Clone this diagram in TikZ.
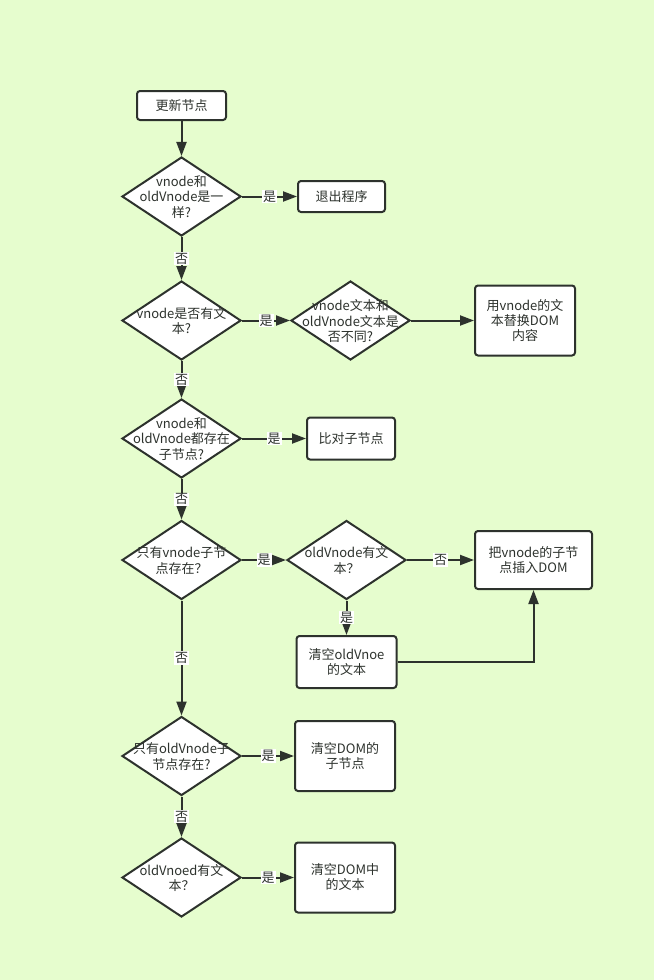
\documentclass[tikz,border=0pt]{standalone}
\usepackage{fontspec}
\setmainfont{Noto Sans CJK SC}
\usetikzlibrary{shapes.geometric, arrows.meta, positioning}
\definecolor{bgcol}{RGB}{230,253,206}
\definecolor{linecol}{RGB}{45,50,45}
\newcommand{\ctext}[1]{\smash{\makebox[0pt]{\raisebox{-0.4em}{\begin{tabular}{@{}c@{}}#1\end{tabular}}}}}

\begin{document}
\begin{tikzpicture}[node distance=91pt, line width=2pt, color=linecol,
  font=\fontsize{13}{15}\selectfont,
  box/.style = {draw, rounded corners=3pt, fill=white, align=center, inner sep=2pt},
  cond/.style = {draw, diamond, fill=white, minimum width=119pt, minimum height=79pt, inner sep=0pt},
  arr/.style = {-{Triangle[length=14pt, width=10pt]}},
  lbl/.style = {fill=white, inner sep=1pt}]
				\fill[bgcol] (0pt,0pt) rectangle (654pt,-980pt);
				\useasboundingbox (0pt,0pt) rectangle (654pt,-980pt);
				\node[box, minimum width=89pt, minimum height=29pt] (start) at (181.5pt,-105.5pt) {更新节点};
				\node[cond] (same) [below of=start, node distance=91pt] {\ctext{vnode和\\oldVnode是一\\样?}};
				\node[box, minimum width=87pt, minimum height=31pt] (quit) [right of=same, node distance=160pt] {退出程序};
				\node[cond] (hastext) [below of=same, node distance=124pt] {\ctext{vnode是否有文\\本?}};
				\node[cond] (diff) [right of=hastext, node distance=169pt] {\ctext{vnode文本和\\oldVnode文本是\\否不同?}};
				\node[box, minimum width=100pt, minimum height=70pt] (settext) [right of=diff, node distance=174.5pt] {用vnode的文\\本替换DOM\\内容};
				\node[cond] (both) [below of=hastext, node distance=118pt] {\ctext{vnode和\\oldVnode都存在\\子节点?}};
				\node[box, minimum width=88pt, minimum height=42pt] (cmp) [right of=both, node distance=169.5pt] {比对子节点};
				\node[cond] (onlynew) [below of=both, node distance=121.5pt] {\ctext{只有vnode子节\\点存在？}};
				\node[cond] (oldtext) [right of=onlynew, node distance=165pt] {\ctext{oldVnode有文\\本？}};
				\node[box, minimum width=117pt, minimum height=58pt] (add) [right of=oldtext, node distance=187pt] {把vnode的子节\\点插入DOM};
				\node[box, minimum width=100pt, minimum height=52pt] (clrold) [below of=oldtext, node distance=102pt] {清空oldVnoe\\的文本};
				\node[cond] (onlyold) [below of=onlynew, node distance=196pt] {\ctext{只有oldVnode子\\节点存在?}};
				\node[box, minimum width=100pt, minimum height=70pt] (rmchild) [right of=onlyold, node distance=163.5pt] {清空DOM的\\子节点};
				\node[cond] (oldhas) [below of=onlyold, node distance=121.5pt] {\ctext{oldVnoed有文\\本？}};
				\node[box, minimum width=100pt, minimum height=70pt] (rmtext) [right of=oldhas, node distance=163.5pt] {清空DOM中\\的文本};
				\draw[arr] (start) -- (same);
				\draw[arr] (same) -- node[lbl] {是} (quit);
				\draw[arr] (same) -- node[lbl] {否} (hastext);
				\draw[arr] (hastext) -- node[lbl] {是} (diff);
				\draw[arr] (diff) -- (settext);
				\draw[arr] (hastext) -- node[lbl] {否} (both);
				\draw[arr] (both) -- node[lbl] {是} (cmp);
				\draw[arr] (both) -- node[lbl] {否} (onlynew);
				\draw[arr] (onlynew) -- node[lbl] {是} (oldtext);
				\draw[arr] (oldtext) -- node[lbl] {否} (add);
				\draw[arr] (oldtext) -- node[lbl] {是} (clrold);
				\draw[arr] (clrold) -| (add);
				\draw[arr] (onlynew) -- node[lbl] {否} (onlyold);
				\draw[arr] (onlyold) -- node[lbl] {是} (rmchild);
				\draw[arr] (onlyold) -- node[lbl] {否} (oldhas);
				\draw[arr] (oldhas) -- node[lbl] {是} (rmtext);
			\end{tikzpicture}
\end{document}
